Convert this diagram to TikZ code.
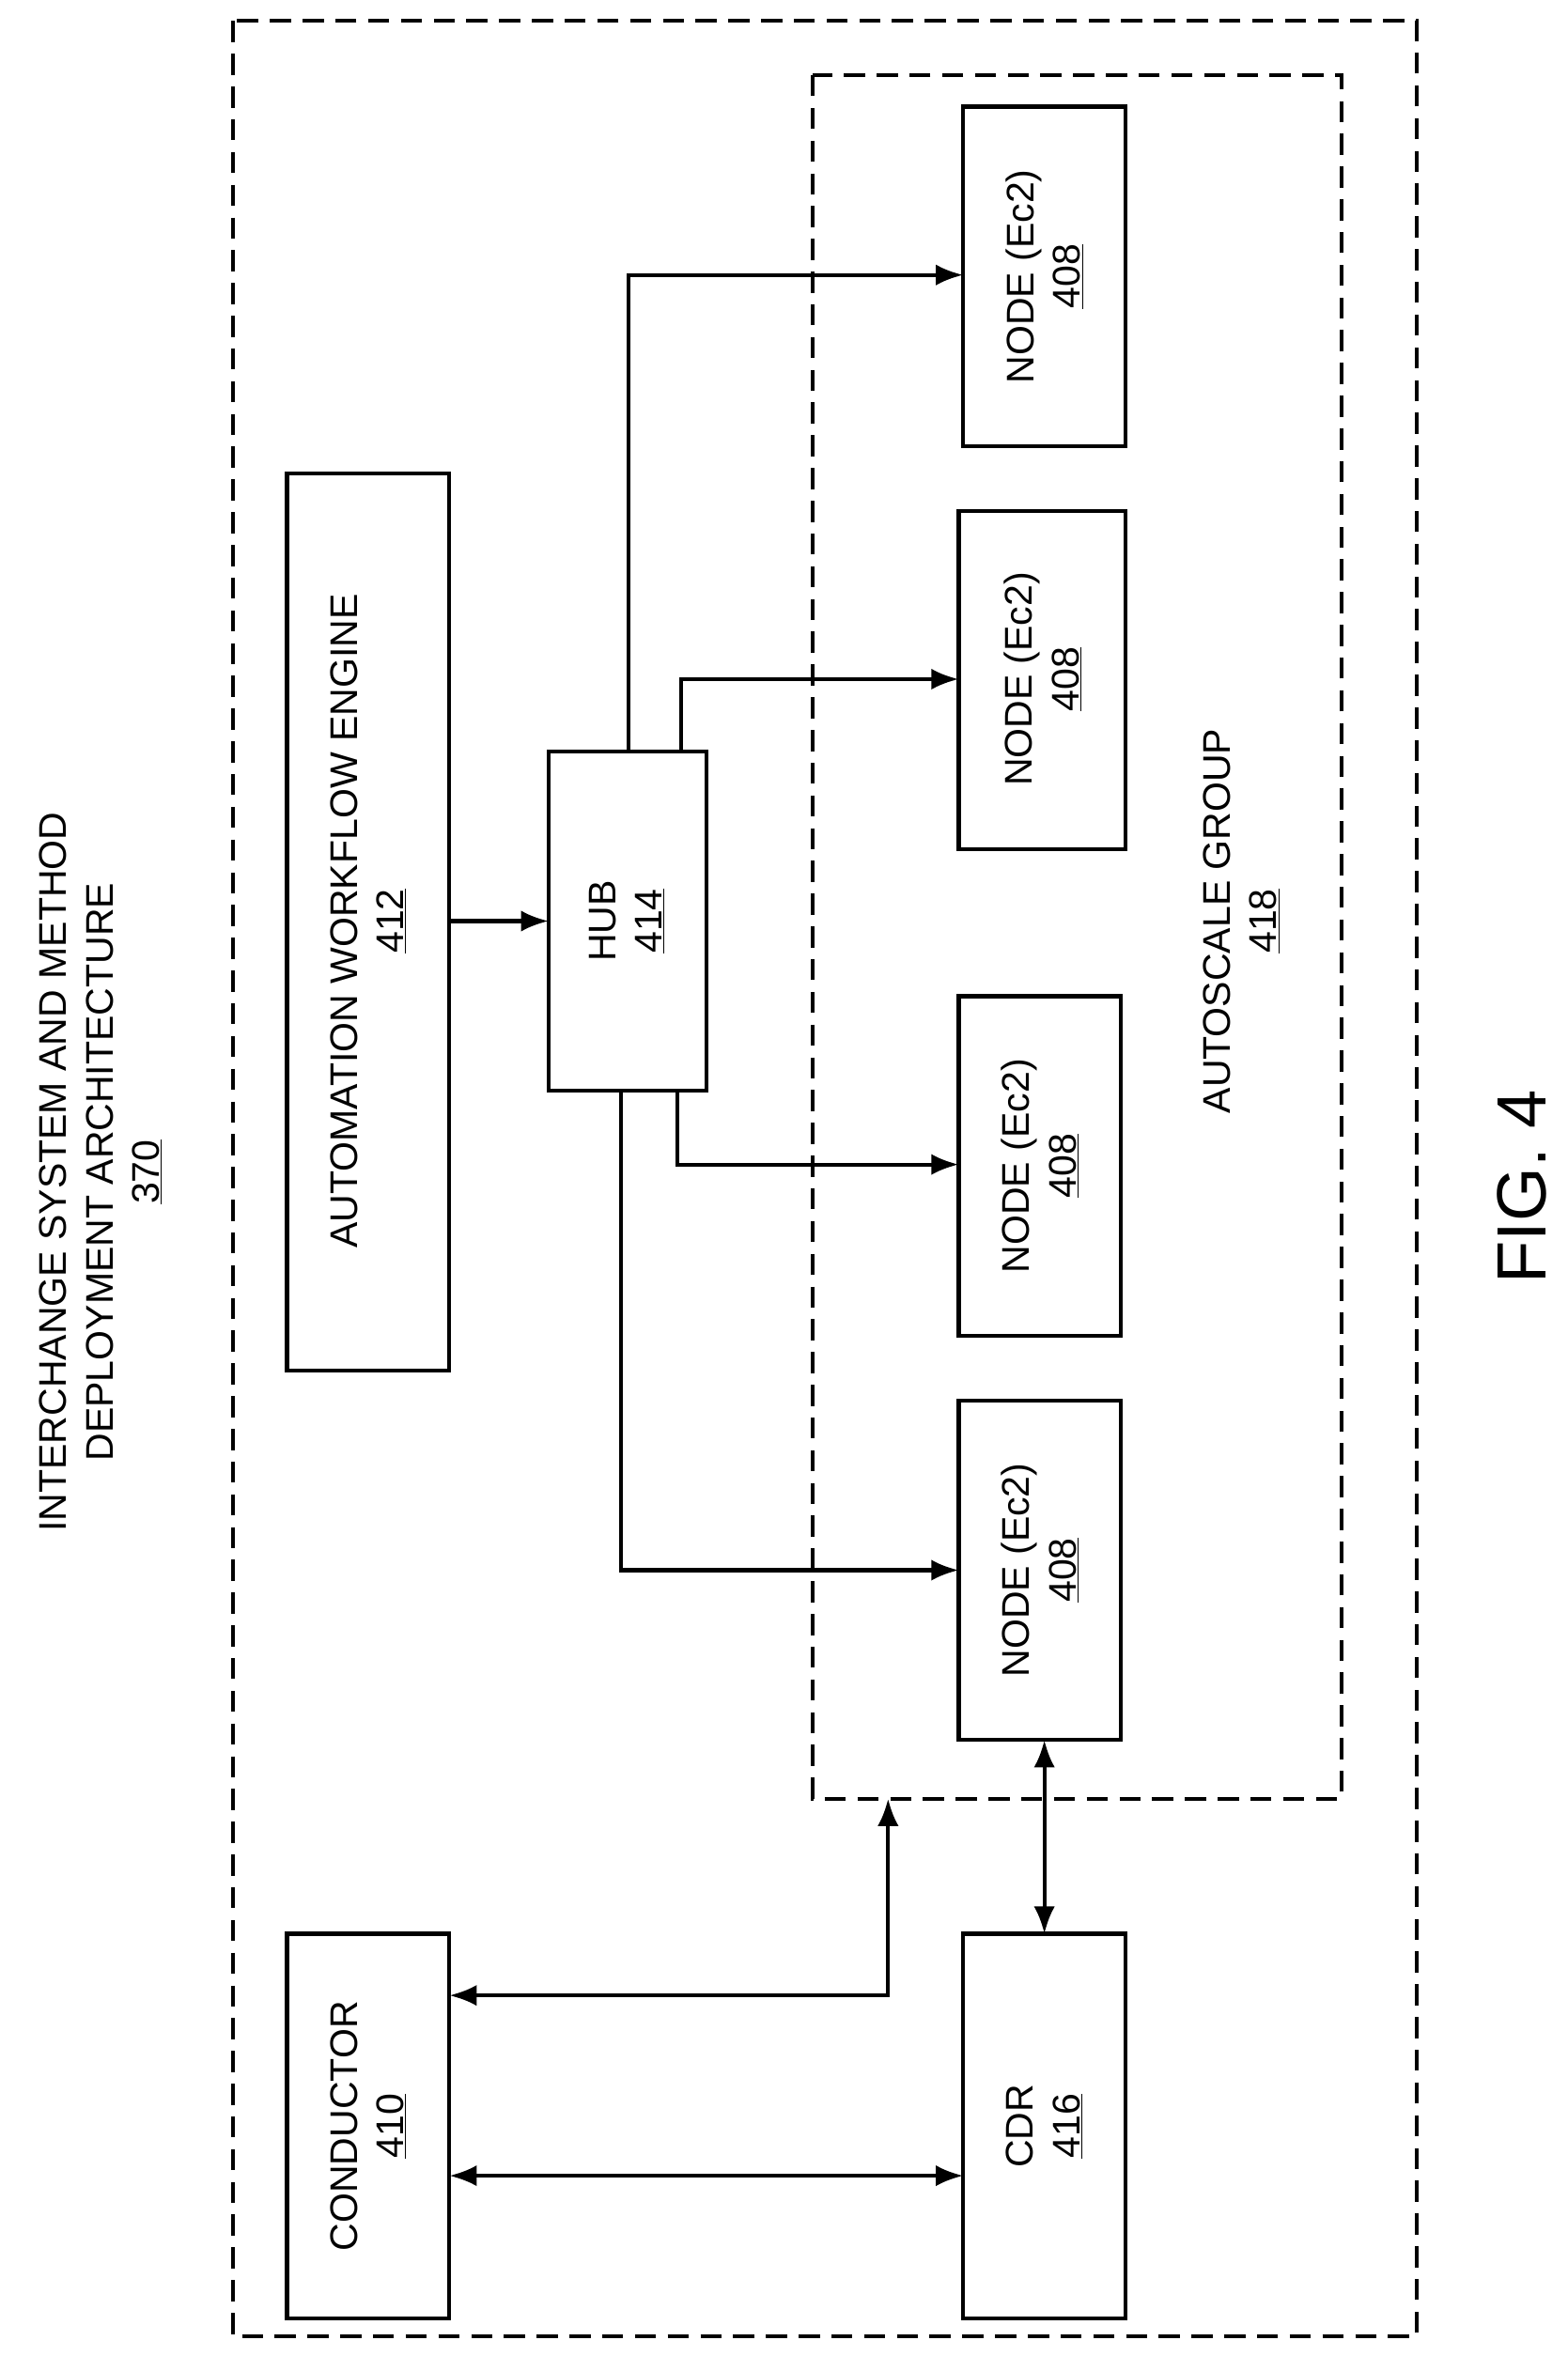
\documentclass[tikz,border=0pt]{standalone}
\usepackage{fontspec}
\setmainfont{Liberation Sans}
\usetikzlibrary{arrows.meta}
\begin{document}
\begin{tikzpicture}[x=0.05cm,y=-0.05cm,
  box/.style={draw,line width=3.8pt},
  dashbox/.style={draw,line width=3.6pt,dash pattern=on 20pt off 11pt},
  lbl/.style={rotate=90,font=\fontsize{36.5}{44}\selectfont,align=center},
  ar/.style={line width=3.6pt,-{Latex[length=26pt,width=20pt]}},
  dar/.style={line width=3.6pt,{Latex[length=26pt,width=20pt]}-{Latex[length=26pt,width=20pt]}}]
\useasboundingbox (0,0) rectangle (1043,1568);
\draw[dashbox] (155,14) rectangle (943,1555);
\draw[dashbox] (541,50) rectangle (893,1197);
\coordinate (ag) at (591,1197);
\node[lbl] (title) at (67,780) {INTERCHANGE SYSTEM AND METHOD\\DEPLOYMENT ARCHITECTURE\\\underline{370}};
\draw[box] (191,315) rectangle (299,912);
\node[lbl] (awe) at (245,613) {AUTOMATION WORKFLOW ENGINE\\\underline{412}};
\draw[box] (365,500) rectangle (470,726);
\node[lbl] (hub) at (417,613) {HUB\\\underline{414}};
\draw[box] (641,71) rectangle (749,297);
\node[lbl] (n1) at (695,184) {NODE (Ec2)\\\underline{408}};
\draw[box] (638,340) rectangle (749,565);
\node[lbl] (n2) at (694,452) {NODE (Ec2)\\\underline{408}};
\draw[box] (638,663) rectangle (746,889);
\node[lbl] (n3) at (692,776) {NODE (Ec2)\\\underline{408}};
\draw[box] (638,932) rectangle (746,1158);
\node[lbl] (n4) at (692,1045) {NODE (Ec2)\\\underline{408}};
\draw[box] (191,1287) rectangle (299,1543);
\node[lbl] (cond) at (245,1415) {CONDUCTOR\\\underline{410}};
\draw[box] (641,1287) rectangle (749,1543);
\node[lbl] (cdr) at (695,1415) {CDR\\\underline{416}};
\node[lbl] (asg) at (826,613) {AUTOSCALE GROUP\\\underline{418}};
\node[rotate=90,font=\fontsize{66}{72}\selectfont] (fig) at (1013,790) {FIG. 4};
\draw[ar] (299,613) -- (365,613);
\draw[ar] (418,500) -- (418,183) -- (641,183);
\draw[ar] (453,500) -- (453,452) -- (638,452);
\draw[ar] (451,726) -- (451,775) -- (638,775);
\draw[ar] (413,726) -- (413,1045) -- (638,1045);
\draw[dar] (695,1158) -- (695,1287);
\draw[dar] (ag) -- (591,1328) -- (299,1328);
\draw[dar] (299,1448) -- (641,1448);
\end{tikzpicture}
\end{document}
